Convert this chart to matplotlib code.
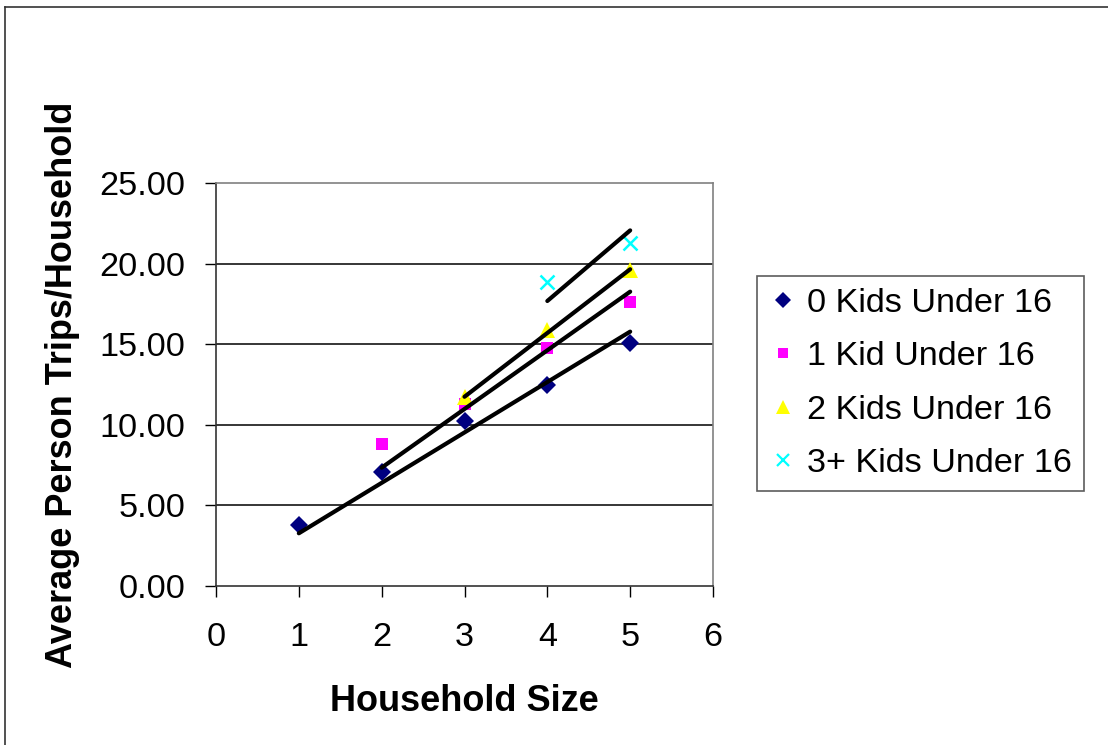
import matplotlib
matplotlib.use('Agg')
import matplotlib.pyplot as plt
from matplotlib.lines import Line2D
from matplotlib.ticker import FormatStrFormatter

plt.rcParams['font.family'] = ['Liberation Sans', 'DejaVu Sans']

# household size (x) and average person trips per household (y)
size_0 = [1, 2, 3, 4, 5]
trips_0 = [3.78, 7.10, 10.25, 12.47, 15.08]
size_1 = [2, 3, 4, 5]
trips_1 = [8.81, 11.29, 14.74, 17.64]
size_2 = [3, 4, 5]
trips_2 = [11.70, 15.88, 19.58]
size_3 = [4, 5]
trips_3 = [18.88, 21.25]

# trend line end points
trend_x = [[1, 5], [2, 5], [3, 5], [4, 5]]
trend_y = [[3.27, 15.78], [7.34, 18.26], [11.74, 19.65], [17.68, 22.06]]

labels = ['0 Kids Under 16', '1 Kid Under 16', '2 Kids Under 16', '3+ Kids Under 16']
colors = ['#000080', '#FF00FF', '#FFFF00', '#00FFFF']
markers = ['D', 's', '^', 'x']
sizes = [9.5, 9, 11, 10]
legend_sizes = [8, 7.5, 9.5, 8.5]

W, H = 1108, 745
fig = plt.figure(figsize=(W / 100, H / 100), dpi=100)
ax = fig.add_axes([216 / W, 1 - 586 / H, (713 - 216) / W, (586 - 183) / H])

fs = 24.7
lfs = 26

xs = [size_0, size_1, size_2, size_3]
ys = [trips_0, trips_1, trips_2, trips_3]
for i in range(4):
    if markers[i] == 'x':
        ax.plot(xs[i], ys[i], linestyle='none', marker='x', markersize=sizes[i],
                color=colors[i], markeredgewidth=1.8, zorder=3)
    else:
        ax.plot(xs[i], ys[i], linestyle='none', marker=markers[i], markersize=sizes[i],
                color=colors[i], markeredgewidth=0, zorder=3)

for tx, ty in zip(trend_x, trend_y):
    ax.plot(tx, ty, color='black', linewidth=3, solid_capstyle='round', zorder=4)

ax.set_xlim(0, 6)
ax.set_ylim(0, 25)
ax.set_xticks(range(0, 7))
ax.set_yticks([0, 5, 10, 15, 20, 25])
ax.yaxis.set_major_formatter(FormatStrFormatter('%.2f'))
ax.tick_params(direction='out', length=8, width=1, labelsize=fs, colors='black')
ax.tick_params(axis='x', pad=18)
ax.tick_params(axis='y', pad=14)
for y in [5, 10, 15, 20]:
    ax.axhline(y, color='black', linewidth=1.1, zorder=1)

for side in ['top', 'right']:
    ax.spines[side].set_color('#808080')
    ax.spines[side].set_linewidth(1.2)
for side in ['left', 'bottom']:
    ax.spines[side].set_color('#333333')
    ax.spines[side].set_linewidth(1.2)

ax.set_xlabel('Household Size', fontsize=lfs, fontweight='bold', labelpad=22)
ax.set_ylabel('Average Person Trips/Household', fontsize=lfs, fontweight='bold', labelpad=14)

handles = []
for i in range(4):
    if markers[i] == 'x':
        h = Line2D([], [], linestyle='none', marker='x', markersize=legend_sizes[i],
                   color=colors[i], markeredgewidth=1.6)
    else:
        h = Line2D([], [], linestyle='none', marker=markers[i], markersize=legend_sizes[i],
                   color=colors[i], markeredgewidth=0)
    handles.append(h)

leg = fig.legend(handles, labels, loc='upper left', bbox_to_anchor=(757 / W, 1 - 276 / H),
                 bbox_transform=fig.transFigure, fontsize=fs, frameon=True, fancybox=False,
                 edgecolor='#333333', borderaxespad=0, borderpad=0.35, labelspacing=0.65,
                 handlelength=0.8, handletextpad=0.3)
leg.get_frame().set_linewidth(1.2)

# outer chart border (top and left only are visible)
fig.add_artist(Line2D([5 / W, 1], [1 - 7 / H, 1 - 7 / H], color='#333333', linewidth=1.2))
fig.add_artist(Line2D([5 / W, 5 / W], [0, 1 - 7 / H], color='#333333', linewidth=1.2))

fig.savefig('out.png', dpi=100)
